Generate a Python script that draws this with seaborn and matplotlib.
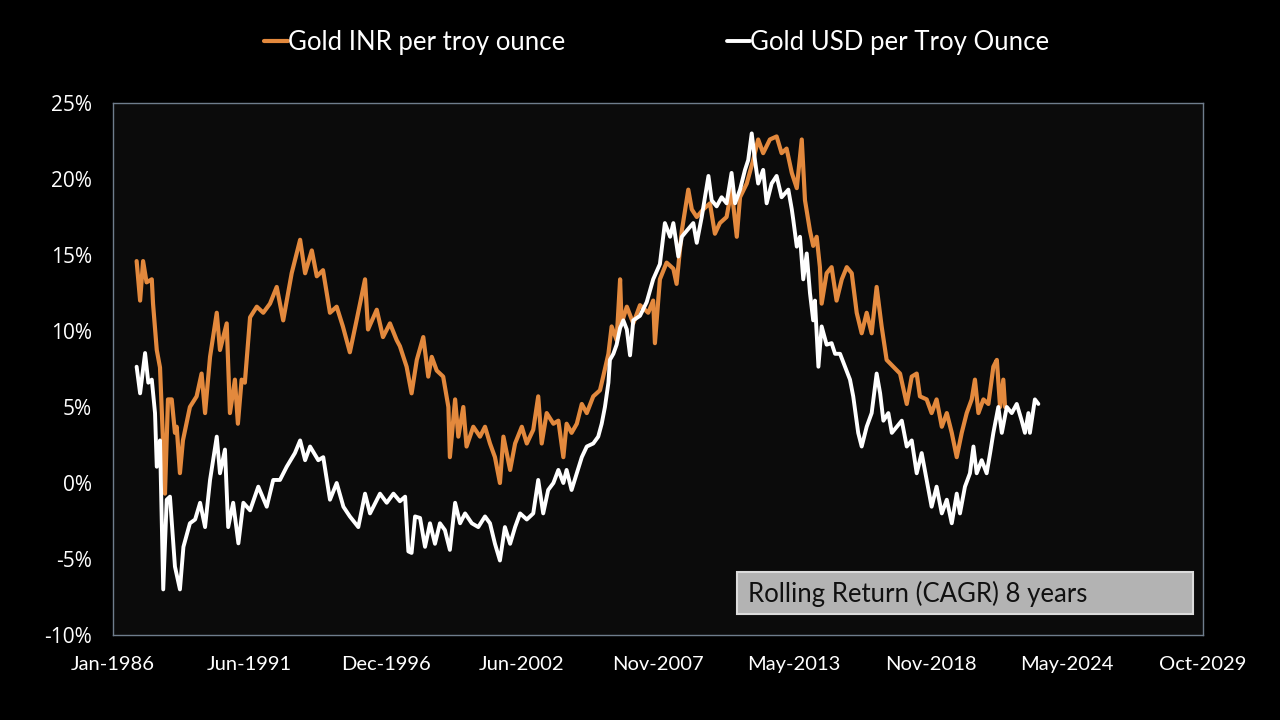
import pandas as pd
import matplotlib.pyplot as plt
import matplotlib.dates as mdates
from matplotlib.ticker import PercentFormatter, FixedLocator
from matplotlib.patches import Rectangle
import seaborn as sns

# values (decimal year, rolling 8y CAGR in %)
inr_years = [1986.95, 1987.09, 1987.21, 1987.35, 1987.56, 1987.61, 1987.76, 1987.89, 1988.01, 1988.09,
             1988.21, 1988.36, 1988.49, 1988.56, 1988.69, 1988.81, 1989.09, 1989.36, 1989.56, 1989.70,
             1989.90, 1990.17, 1990.30, 1990.57, 1990.70, 1990.90, 1991.02, 1991.17, 1991.30, 1991.51,
             1991.78, 1992.04, 1992.31, 1992.58, 1992.84, 1993.18, 1993.52, 1993.72, 1993.99, 1994.19,
             1994.44, 1994.72, 1994.99, 1995.24, 1995.52, 1995.79, 1996.13, 1996.25, 1996.60, 1996.85,
             1997.13, 1997.40, 1997.53, 1997.80, 1998.00, 1998.21, 1998.47, 1998.67, 1998.81, 1999.01,
             1999.27, 1999.48, 1999.54, 1999.75, 1999.88, 2000.08, 2000.21, 2000.48, 2000.75, 2000.95,
             2001.15, 2001.35, 2001.55, 2001.69, 2001.96, 2002.16, 2002.43, 2002.63, 2002.89, 2003.09,
             2003.23, 2003.43, 2003.70, 2003.90, 2004.10, 2004.23, 2004.43, 2004.64, 2004.84, 2005.04,
             2005.30, 2005.57, 2005.70, 2005.91, 2006.04, 2006.24, 2006.38, 2006.44, 2006.65, 2006.91,
             2007.18, 2007.51, 2007.71, 2007.78, 2007.98, 2008.25, 2008.52, 2008.65, 2008.86, 2009.12,
             2009.26, 2009.46, 2009.72, 2009.99, 2010.19, 2010.39, 2010.66, 2010.86, 2011.07, 2011.20,
             2011.47, 2011.73, 2011.93, 2012.13, 2012.40, 2012.67, 2012.87, 2013.07, 2013.28, 2013.48,
             2013.68, 2013.81, 2014.01, 2014.14, 2014.28, 2014.41, 2014.48, 2014.68, 2014.88, 2015.08,
             2015.29, 2015.49, 2015.69, 2015.89, 2016.09, 2016.29, 2016.49, 2016.69, 2016.89, 2017.09,
             2017.36, 2017.63, 2017.90, 2018.10, 2018.30, 2018.43, 2018.70, 2018.90, 2019.10, 2019.31,
             2019.51, 2019.71, 2019.91, 2020.11, 2020.31, 2020.51, 2020.64, 2020.78, 2020.98, 2021.18,
             2021.38, 2021.52, 2021.65, 2021.78, 2021.85]
inr_cagr = [14.6, 12.0, 14.6, 13.2, 13.4, 11.8, 8.75, 7.6, 2.8, -0.7,
            5.5, 5.5, 3.3, 3.7, 0.65, 2.8, 5.0, 5.7, 7.2, 4.6,
            8.3, 11.2, 8.75, 10.5, 4.6, 6.8, 3.9, 6.8, 6.6, 10.9,
            11.6, 11.2, 11.8, 12.9, 10.7, 13.8, 16.0, 13.8, 15.3, 13.6,
            14.0, 11.2, 11.6, 10.3, 8.6, 10.7, 13.4, 10.1, 11.4, 9.6,
            10.5, 9.4, 9.0, 7.65, 5.9, 8.1, 9.6, 7.0, 8.3, 7.4,
            7.0, 5.0, 1.7, 5.5, 3.05, 5.0, 2.4, 3.7, 3.05, 3.7,
            2.6, 1.7, 0.0, 3.05, 0.86, 2.6, 3.7, 2.6, 3.5, 5.7,
            2.6, 4.6, 3.9, 4.1, 1.7, 3.9, 3.3, 3.9, 5.2, 4.6,
            5.7, 6.1, 7.0, 8.5, 10.3, 9.4, 13.4, 10.5, 11.6, 10.5,
            11.7, 11.2, 12.0, 9.2, 13.4, 14.5, 14.1, 13.1, 16.6, 19.3,
            18.0, 17.5, 18.0, 18.4, 16.4, 17.1, 17.5, 19.3, 16.2, 18.8,
            19.7, 21.25, 22.6, 21.7, 22.6, 22.8, 21.7, 22.0, 20.4, 19.4,
            22.6, 18.6, 16.6, 15.6, 16.2, 14.2, 11.8, 13.8, 14.2, 12.0,
            13.4, 14.2, 13.8, 11.2, 9.85, 11.2, 9.85, 12.9, 10.3, 8.1,
            7.65, 7.2, 5.2, 7.0, 7.2, 5.7, 5.5, 4.6, 5.5, 3.7,
            4.6, 3.3, 1.7, 3.3, 4.6, 5.5, 6.8, 4.6, 5.5, 5.2,
            7.65, 8.1, 5.0, 6.8, 5.0]

usd_years = [1986.95, 1987.09, 1987.29, 1987.42, 1987.56, 1987.69, 1987.76, 1987.89, 1988.02, 1988.16,
             1988.29, 1988.49, 1988.69, 1988.83, 1989.09, 1989.30, 1989.50, 1989.70, 1989.90, 1990.17,
             1990.30, 1990.50, 1990.63, 1990.83, 1991.04, 1991.24, 1991.51, 1991.84, 1992.18, 1992.44,
             1992.71, 1992.98, 1993.31, 1993.52, 1993.72, 1993.92, 1994.25, 1994.45, 1994.72, 1994.99,
             1995.26, 1995.52, 1995.86, 1996.13, 1996.33, 1996.73, 1997.00, 1997.27, 1997.53, 1997.74,
             1997.87, 1998.00, 1998.14, 1998.34, 1998.54, 1998.74, 1998.94, 1999.14, 1999.34, 1999.54,
             1999.75, 1999.95, 2000.15, 2000.42, 2000.68, 2000.95, 2001.15, 2001.35, 2001.55, 2001.75,
             2001.96, 2002.16, 2002.36, 2002.63, 2002.89, 2003.09, 2003.29, 2003.49, 2003.70, 2003.90,
             2004.10, 2004.23, 2004.43, 2004.64, 2004.84, 2005.04, 2005.30, 2005.50, 2005.64, 2005.77,
             2005.91, 2005.97, 2006.11, 2006.24, 2006.38, 2006.51, 2006.65, 2006.78, 2006.91, 2007.18,
             2007.45, 2007.71, 2007.98, 2008.18, 2008.39, 2008.52, 2008.72, 2008.86, 2009.06, 2009.32,
             2009.46, 2009.66, 2009.93, 2010.06, 2010.26, 2010.46, 2010.66, 2010.86, 2011.00, 2011.20,
             2011.40, 2011.53, 2011.67, 2011.80, 2011.93, 2012.13, 2012.27, 2012.47, 2012.67, 2012.87,
             2013.14, 2013.28, 2013.34, 2013.48, 2013.61, 2013.74, 2013.88, 2014.01, 2014.14, 2014.21,
             2014.35, 2014.48, 2014.68, 2014.88, 2015.02, 2015.22, 2015.42, 2015.62, 2015.75, 2015.95,
             2016.09, 2016.29, 2016.49, 2016.69, 2016.83, 2016.96, 2017.16, 2017.30, 2017.50, 2017.70,
             2017.90, 2018.10, 2018.30, 2018.50, 2018.70, 2018.90, 2019.10, 2019.31, 2019.51, 2019.71,
             2019.91, 2020.04, 2020.24, 2020.44, 2020.58, 2020.71, 2020.91, 2021.11, 2021.25, 2021.38,
             2021.58, 2021.72, 2021.92, 2022.12, 2022.32, 2022.52, 2022.65, 2022.79, 2022.85, 2023.05,
             2023.19]
usd_cagr = [7.65, 5.9, 8.55, 6.6, 6.8, 4.6, 1.07, 2.8, -7.0, -1.1,
            -0.9, -5.5, -7.0, -4.2, -2.65, -2.4, -1.3, -2.9, 0.2, 3.05,
            0.64, 2.2, -2.9, -1.3, -3.97, -1.3, -1.8, -0.24, -1.56, 0.2,
            0.2, 1.07, 1.97, 2.8, 1.5, 2.4, 1.5, 1.7, -1.1, 0.0,
            -1.56, -2.2, -2.9, -0.7, -2.0, -0.7, -1.3, -0.7, -1.2, -0.9,
            -4.5, -4.6, -2.2, -2.3, -4.2, -2.65, -4.0, -2.65, -3.1, -4.4,
            -1.3, -2.65, -2.0, -2.65, -2.9, -2.2, -2.65, -4.0, -5.1, -2.9,
            -4.0, -2.9, -2.0, -2.4, -2.0, 0.2, -2.0, -0.46, 0.0, 0.86,
            0.0, 0.86, -0.46, 0.64, 1.7, 2.4, 2.6, 3.05, 3.9, 5.0,
            6.6, 8.1, 8.5, 9.1, 10.2, 10.7, 10.1, 8.4, 10.7, 11.0,
            11.9, 13.4, 14.4, 17.1, 16.2, 17.1, 14.9, 16.2, 16.6, 17.1,
            15.8, 17.5, 20.2, 18.6, 18.2, 18.8, 18.4, 20.4, 18.4, 19.3,
            20.6, 21.25, 23.0, 21.25, 19.7, 20.6, 18.4, 19.7, 20.2, 18.8,
            19.3, 18.0, 17.3, 15.55, 16.2, 13.4, 15.1, 12.5, 10.7, 12.0,
            7.65, 10.3, 9.1, 9.2, 8.5, 8.5, 7.65, 6.8, 5.7, 3.3,
            2.4, 3.7, 4.6, 7.2, 5.9, 4.1, 4.6, 3.3, 3.7, 4.1,
            2.4, 2.8, 0.64, 1.97, 0.2, -1.56, -0.24, -2.0, -1.1, -2.65,
            -0.7, -2.0, -0.24, 0.64, 2.4, 0.64, 1.5, 0.64, 1.97, 3.3,
            5.0, 3.3, 5.0, 4.6, 5.2, 4.1, 3.3, 4.6, 3.3, 5.5,
            5.2]

series_names = ["Gold INR per troy ounce", "Gold USD per Troy Ounce"]
series_colors = ["#E3893D", "#FFFFFF"]
box_label = "Rolling Return (CAGR) 8 years"
axis_start = "1986-01-01"
tick_step_days = 2000
n_ticks = 9


def to_date(y):
    year = int(y)
    start = pd.Timestamp(year, 1, 1)
    return start + (pd.Timestamp(year + 1, 1, 1) - start) * (y - year)


inr = pd.DataFrame({"date": [to_date(v) for v in inr_years], "cagr": inr_cagr})
usd = pd.DataFrame({"date": [to_date(v) for v in usd_years], "cagr": usd_cagr})

sns.set_style("dark")
plt.rcParams["font.family"] = ["Lato", "DejaVu Sans"]
plt.rcParams["axes.unicode_minus"] = False

fig = plt.figure(figsize=(12.8, 7.2), dpi=100, facecolor="black")
ax = fig.add_axes([113 / 1280, 1 - 635 / 720, 1090 / 1280, 532 / 720])
ax.set_facecolor("#0b0b0b")

sns.lineplot(data=inr, x="date", y="cagr", ax=ax, color=series_colors[0],
             linewidth=3.0, label=series_names[0])
sns.lineplot(data=usd, x="date", y="cagr", ax=ax, color=series_colors[1],
             linewidth=2.8, label=series_names[1])

# x axis: Excel style date axis, major unit 2000 days
x0 = pd.Timestamp(axis_start)
ticks = [x0 + pd.Timedelta(days=tick_step_days * i) for i in range(n_ticks)]
ax.set_xlim(ticks[0], ticks[-1])
ax.xaxis.set_major_locator(FixedLocator(mdates.date2num(ticks)))
ax.xaxis.set_major_formatter(mdates.DateFormatter("%b-%Y"))

ax.set_ylim(-10, 25)
ax.set_yticks(range(-10, 26, 5))
ax.yaxis.set_major_formatter(PercentFormatter(100, decimals=0))

ax.grid(False)
ax.set_xlabel("")
ax.set_ylabel("")
for s in ax.spines.values():
    s.set_visible(True)
    s.set_color("#6f7d8c")
    s.set_linewidth(1.0)
ax.tick_params(axis="both", colors="#8a96a3", direction="out", length=7, width=1,
               labelcolor="white", pad=8)
for lbl in ax.get_xticklabels():
    lbl.set_fontsize(14.5)
    lbl.set_family(["Lato", "DejaVu Sans"])
for lbl in ax.get_yticklabels():
    lbl.set_fontsize(15)
    lbl.set_family(["Open Sans", "DejaVu Sans"])

# legend across the top
ax.legend_.remove()
leg = fig.legend(loc="center", bbox_to_anchor=(0.513, 0.941), ncol=2, frameon=False,
                 handlelength=0.9, handletextpad=0.0, columnspacing=6.3,
                 prop={"family": ["Lato", "DejaVu Sans"], "size": 18.5})
for t in leg.get_texts():
    t.set_color("white")

# grey label box
box = Rectangle((737 / 1280, 1 - 614 / 720), 456 / 1280, 42 / 720, transform=fig.transFigure,
                facecolor="#b3b3b3", edgecolor="#dcdcdc", linewidth=1.5, zorder=5)
fig.patches.append(box)
fig.text(748 / 1280, 1 - 594 / 720, box_label, ha="left", va="center", color="#111111",
         fontsize=18.5, zorder=6, family=["Lato", "DejaVu Sans"])

fig.savefig("out.png", dpi=100, facecolor="black", edgecolor="#707070")
